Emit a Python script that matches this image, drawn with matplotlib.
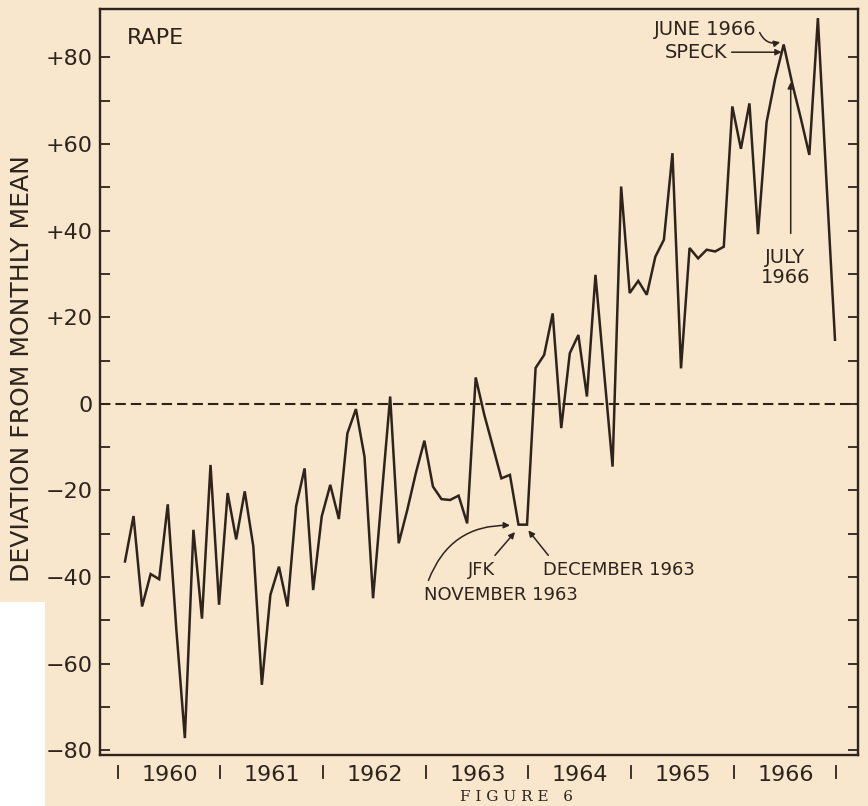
import matplotlib
matplotlib.use('Agg')
import matplotlib.pyplot as plt
from matplotlib.patches import Rectangle
from matplotlib.transforms import offset_copy
import numpy as np

# ---------------- data ----------------
years = ['1960', '1961', '1962', '1963', '1964', '1965', '1966']
values_1960 = [-36.4, -25.9, -46.8, -39.3, -40.5, -23.2, -52.0, -77.2, -29.1, -49.6, -14.1, -46.4]
values_1961 = [-20.6, -31.3, -20.2, -32.9, -64.9, -44.1, -37.6, -46.8, -23.7, -14.9, -43.0, -26.0]
values_1962 = [-18.7, -26.6, -6.8, -1.2, -12.2, -44.9, -21.5, 1.7, -32.2, -24.5, -16.0, -8.5]
values_1963 = [-19.1, -22.0, -22.2, -21.2, -27.6, 6.1, -2.5, -9.8, -17.2, -16.4, -27.9, -27.9]
values_1964 = [8.3, 11.3, 20.9, -5.6, 11.7, 15.9, 1.7, 29.8, 7.5, -14.5, 50.2, 25.6]
values_1965 = [28.4, 25.2, 34.0, 37.9, 57.9, 8.2, 36.0, 33.6, 35.6, 35.2, 36.3, 68.7]
values_1966 = [58.9, 69.4, 39.2, 65.0, 75.0, 83.0, 74.0, 66.0, 57.5, 89.1, 51.5, 14.8]
values = (values_1960 + values_1961 + values_1962 + values_1963 +
          values_1964 + values_1965 + values_1966)
months = np.arange(len(values))
y_major = [-80, -60, -40, -20, 0, 20, 40, 60, 80]

BG = '#F8E6CD'
INK = '#2E241C'
W, H = 868, 806

plt.rcParams['font.family'] = ['DejaVu Sans']

fig = plt.figure(figsize=(W / 100, H / 100), dpi=100, facecolor=BG)
fig.patches.append(Rectangle((0, 0), 45 / W, 204 / H, transform=fig.transFigure,
                             facecolor='white', edgecolor='none', zorder=-1))

ax = fig.add_axes([100 / W, 1 - 755 / H, 758 / W, 746 / H])
ax.set_facecolor(BG)

ax.plot(months, values, color=INK, lw=1.8, solid_joinstyle='miter', zorder=3)
ax.axhline(0, color=INK, lw=1.5, ls=(0, (5, 2.4)), zorder=2)

ax.set_xlim(-2.92, 85.69)
ax.set_ylim(-81.1, 91.2)

for s in ax.spines.values():
    s.set_color(INK)
    s.set_linewidth(1.7)

# y ticks
ax.set_yticks(y_major)
ax.set_yticklabels([('+%d' % v) if v > 0 else ('0' if v == 0 else '\u2212%d' % -v) for v in y_major],
                   fontsize=16, color=INK)
ax.set_yticks(np.arange(-70, 90, 20), minor=True)
ax.tick_params(axis='y', which='both', direction='in', length=7, width=1.3,
               color=INK, left=True, right=True, pad=5)

# x: year labels centred, year boundary marks detached below axis
edges = [12 * k - 0.85 for k in range(len(years) + 1)]
centers = [12 * k + 5.2 for k in range(len(years))]
ax.set_xticks(centers)
ax.set_xticklabels(years, fontsize=16, color=INK)
ax.tick_params(axis='x', which='both', length=0, pad=7)
xt = ax.get_xaxis_transform()
for e in edges:
    ax.plot([e, e], [-11 / 746, -23 / 746], transform=xt, clip_on=False,
            color=INK, lw=1.3)

ax.text(27 / 758, (755 - 38) / 746, 'RAPE', transform=ax.transAxes, fontsize=16,
        color=INK, ha='left', va='center')

fig.text(22 / W, 1 - 369 / H, 'DEVIATION FROM MONTHLY MEAN', rotation=90,
         ha='center', va='center', fontsize=18, color=INK)
fig.text(516 / W, 1 - 797 / H, 'F I G U R E   6', ha='center', va='center',
         fontsize=11, color=INK, family='DejaVu Serif')


# ---------------- annotations ----------------
def label(idx, off, text, ha='center', size=13, **kw):
    ax.annotate(text, xy=(idx, values[idx]), xytext=off, textcoords='offset pixels',
                ha=ha, va='center', fontsize=size, color=INK, **kw)


def arrow(idx, tip, tail, rad=0.0):
    tr = offset_copy(ax.transData, fig=fig, x=tip[0], y=tip[1], units='dots')
    ax.annotate('', xy=(idx, values[idx]), xycoords=tr,
                xytext=(tail[0] - tip[0], tail[1] - tip[1]), textcoords='offset pixels',
                arrowprops=dict(arrowstyle='-|>', color=INK, lw=1.1, mutation_scale=9,
                                shrinkA=0, shrinkB=0,
                                connectionstyle='arc3,rad=%g' % rad))


# June 1966 / Speck
label(77, (-27, 15), 'JUNE 1966', ha='right', size=14)
arrow(77, (-3.5, 2.3), (-24, 12), rad=0.4)
label(77, (-56, -7.7), 'SPECK', ha='right', size=14)
arrow(77, (-2, -7.7), (-52, -7.7))
# July 1966
label(78, (-7, -184), 'JULY\n1966', ha='center', size=14, linespacing=1.05)
arrow(78, (-1.5, 1.3), (-1.5, -150))
# JFK November 1963
label(46, (-37, -45.7), 'JFK')
label(46, (-18, -70.7), 'NOVEMBER 1963')
arrow(46, (-8.5, -0.7), (-90, -55.7), rad=-0.35)
arrow(46, (-3.5, -7.4), (-23.5, -30.7))
# December 1963
label(47, (16.3, -45.7), 'DECEMBER 1963', ha='left')
arrow(47, (1.3, -5.7), (21.3, -30.7))

fig.savefig('out.png', dpi=100, facecolor=BG)
